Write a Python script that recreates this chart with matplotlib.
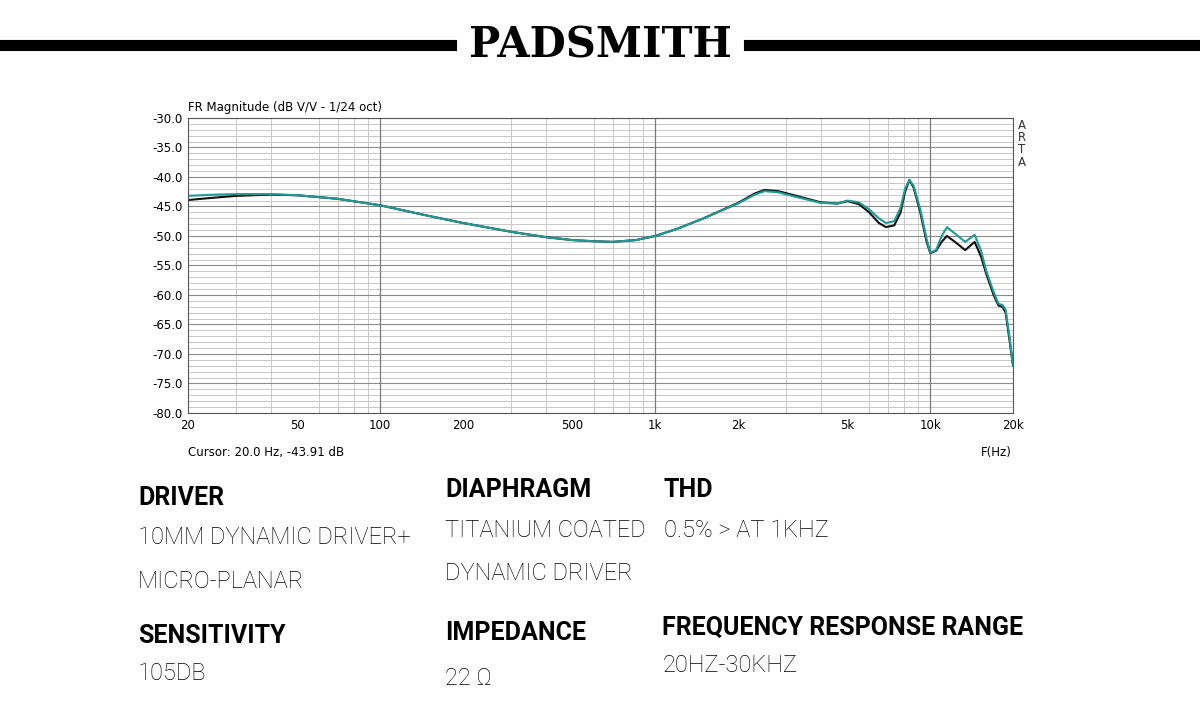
import matplotlib
matplotlib.use("Agg")
import matplotlib.pyplot as plt
from matplotlib.ticker import FixedLocator, NullFormatter
import numpy as np

freq = [20, 25, 30, 40, 50, 70, 100, 150, 200, 300, 400, 500, 600, 700, 850, 1000, 1200, 1500, 2000, 2300, 2500, 2800, 3200, 4000, 4600, 5000, 5500, 6000, 6500, 6900, 7400, 7800, 8100, 8400, 8700, 9200, 9700, 10000, 10500, 11000, 11500, 12300, 13400, 14500, 15300, 16000, 17000, 17700, 18300, 18800, 19400, 20000]
teal = [-43.2, -43.0, -42.9, -42.9, -43.1, -43.7, -44.8, -46.6, -47.8, -49.3, -50.2, -50.7, -50.9, -51.0, -50.7, -50.0, -48.8, -47.0, -44.5, -43.0, -42.4, -42.6, -43.3, -44.4, -44.5, -44.0, -44.3, -45.5, -47.0, -47.8, -47.5, -45.2, -42.0, -40.5, -41.5, -45.5, -50.5, -52.8, -52.4, -50.0, -48.5, -49.6, -51.0, -49.8, -52.5, -56.0, -59.5, -61.5, -61.7, -62.5, -67.0, -72.0]
black = [-43.91, -43.5, -43.2, -43.0, -43.1, -43.7, -44.8, -46.6, -47.8, -49.3, -50.2, -50.7, -50.9, -51.0, -50.7, -50.0, -48.8, -47.0, -44.4, -42.8, -42.2, -42.4, -43.1, -44.3, -44.5, -44.1, -44.6, -46.0, -47.8, -48.5, -48.2, -46.0, -42.5, -40.5, -41.8, -46.0, -51.0, -52.9, -52.5, -51.0, -50.0, -51.0, -52.4, -51.0, -53.5, -56.5, -60.0, -61.8, -62.0, -63.0, -67.5, -72.0]
xtick_vals = [20, 50, 100, 200, 500, 1000, 2000, 5000, 10000, 20000]
xtick_labels = ["20", "50", "100", "200", "500", "1k", "2k", "5k", "10k", "20k"]
ytick_vals = [-30, -35, -40, -45, -50, -55, -60, -65, -70, -75, -80]

fig = plt.figure(figsize=(12, 7.21), dpi=100)
fig.patch.set_facecolor("white")

# header
fig.add_artist(plt.Line2D([0, 0.376], [0.937, 0.937], color="black", lw=8, transform=fig.transFigure))
fig.add_artist(plt.Line2D([0.624, 1.0], [0.937, 0.937], color="black", lw=8, transform=fig.transFigure))
fig.text(0.5, 0.937, "PADSMITH", ha="center", va="center", fontsize=30, fontweight="bold",
         family="DejaVu Serif", color="black")

ax = fig.add_axes([0.1567, 0.4272, 0.6875, 0.4092])
ax.set_xscale("log")
ax.set_xlim(20, 20000)
ax.set_ylim(-80, -30)
minor_x = [m * 10 ** d for d in range(1, 5) for m in range(1, 10) if 20 <= m * 10 ** d <= 20000]
ax.xaxis.set_major_locator(FixedLocator(xtick_vals))
ax.set_xticklabels(xtick_labels)
ax.xaxis.set_minor_locator(FixedLocator(minor_x))
ax.xaxis.set_minor_formatter(NullFormatter())
ax.yaxis.set_major_locator(FixedLocator(ytick_vals))
ax.set_yticklabels([f"{v:.1f}" for v in ytick_vals])
ax.yaxis.set_minor_locator(FixedLocator(list(range(-80, -29))))
ax.grid(which="minor", color="#c8c8c8", lw=0.7)
ax.grid(which="major", axis="y", color="#8a8a8a", lw=0.8)
for d in [100, 1000, 10000]:
    ax.axvline(d, color="#7a7a7a", lw=0.9)
ax.tick_params(which="both", length=0, labelsize=8.5, pad=4)
for s in ax.spines.values():
    s.set_color("#555555"); s.set_linewidth(0.8)
ax.plot(freq, black, color="#111111", lw=1.5)
ax.plot(freq, teal, color="#1f9a94", lw=1.5)

fig.text(0.1567, 0.842, "FR Magnitude (dB V/V - 1/24 oct)", fontsize=8.5, ha="left", va="bottom")
fig.text(0.1567, 0.372, "Cursor: 20.0 Hz, -43.91 dB", fontsize=8.5, ha="left", va="center")
fig.text(0.843, 0.372, "F(Hz)", fontsize=8.5, ha="right", va="center")
for i, ch in enumerate("ARTA"):
    fig.text(0.848, 0.826 - i * 0.017, ch, fontsize=8.5, ha="left", va="center", color="#333333")

head = dict(fontsize=18, fontweight="bold", family="Roboto", color="black")
body = dict(fontsize=17, fontweight="light", family="Roboto", color="black")
fig.text(0.115, 0.300, "DRIVER", **head)
fig.text(0.115, 0.245, "10MM DYNAMIC DRIVER+", **body)
fig.text(0.115, 0.185, "MICRO-PLANAR", **body)
fig.text(0.115, 0.108, "SENSITIVITY", **head)
fig.text(0.115, 0.057, "105DB", **body)
fig.text(0.371, 0.310, "DIAPHRAGM", **head)
fig.text(0.371, 0.255, "TITANIUM COATED", **body)
fig.text(0.371, 0.195, "DYNAMIC DRIVER", **body)
fig.text(0.371, 0.112, "IMPEDANCE", **head)
fig.text(0.371, 0.050, "22 Ω", **body)
fig.text(0.553, 0.310, "THD", **head)
fig.text(0.553, 0.255, "0.5% > AT 1KHZ", **body)
fig.text(0.552, 0.120, "FREQUENCY RESPONSE RANGE", **head)
fig.text(0.552, 0.068, "20HZ-30KHZ", **body)

fig.savefig("out.png", dpi=100, facecolor="white")
